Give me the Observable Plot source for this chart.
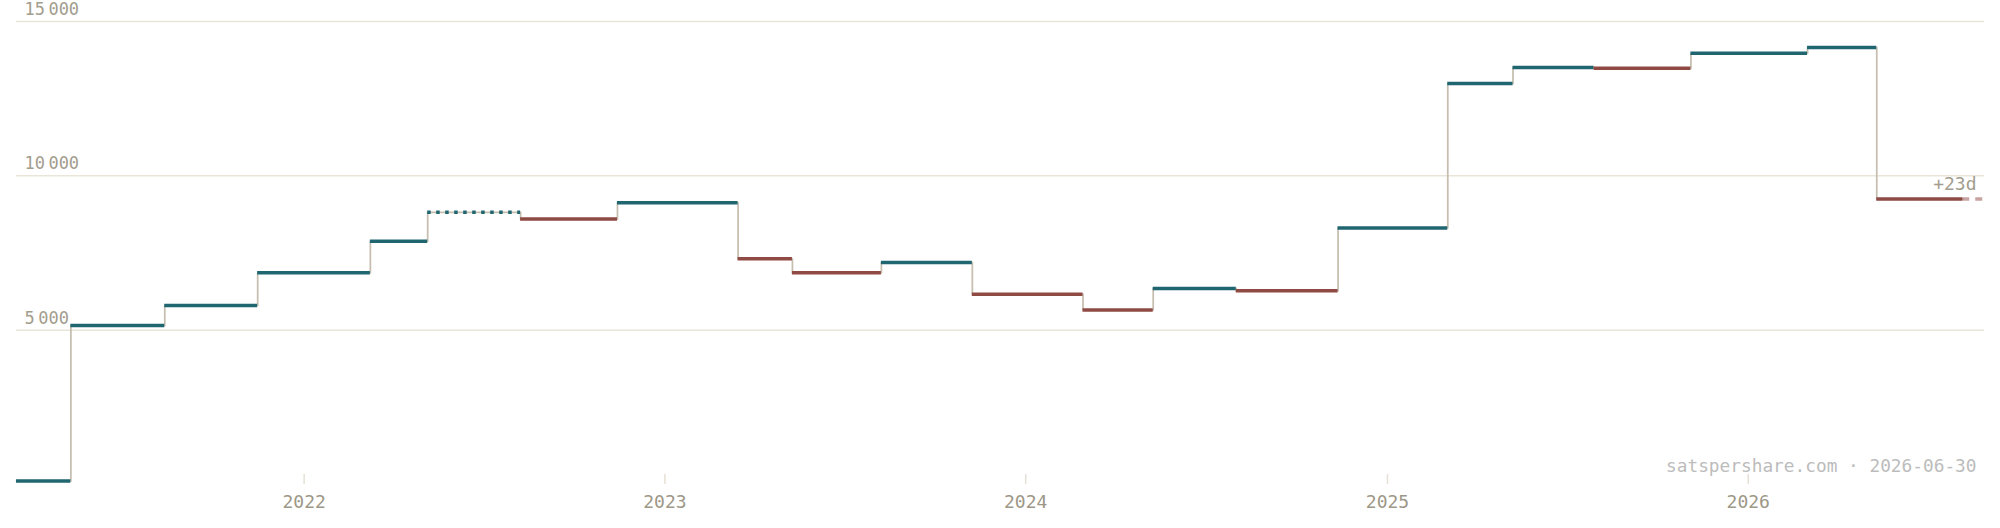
<!DOCTYPE html>
<html>
<head>
<meta charset="utf-8">
<script src="https://cdn.jsdelivr.net/npm/d3@7"></script>
<script src="https://cdn.jsdelivr.net/npm/@observablehq/plot@0.6"></script>
<style>
  html, body { margin: 0; padding: 0; background: #ffffff; }
  #chart svg { display: block; }
</style>
</head>
<body>
<div id="chart"></div>
<script>
// ---- data ----
const periodStarts = [
  "2021-03-16", "2021-05-10", "2021-08-13", "2021-11-15",
  "2022-03-09", "2022-05-06", "2022-08-08", "2022-11-14",
  "2023-03-16", "2023-05-10", "2023-08-08", "2023-11-08",
  "2024-02-28", "2024-05-09", "2024-08-01", "2024-11-12",
  "2025-03-03", "2025-05-08", "2025-07-29", "2025-11-04",
  "2026-03-02", "2026-05-11"
];
const periodEnd = "2026-08-06";
const projectedEnd = "2026-08-28";
const values = [
  110, 5150, 5800, 6860,
  7880, 8820, 8600, 9130,
  7310, 6860, 7190, 6165,
  5650, 6350, 6275, 8310,
  12990, 13510, 13485, 13975,
  14160, 9250
];
const estimated = [
  false, false, false, false,
  false, true, false, false,
  false, false, false, false,
  false, false, false, false,
  false, false, false, false,
  false, false
];
const yTicks = [5000, 10000, 15000];
const xTickDates = ["2022-01-01", "2023-01-01", "2024-01-01", "2025-01-01", "2026-01-01"];
const xTickLabels = ["2022", "2023", "2024", "2025", "2026"];
const footerText = "satspershare.com \u00b7 2026-06-30";
const projectionLabel = "+23d";

// ---- build tables ----
const parse = d3.utcParse("%Y-%m-%d");
const segments = periodStarts.map((s, i) => ({
  x1: parse(s),
  x2: parse(i + 1 < periodStarts.length ? periodStarts[i + 1] : periodEnd),
  y: values[i],
  up: i === 0 ? true : values[i] >= values[i - 1],
  est: estimated[i]
}));
const stepPoints = periodStarts.map((s, i) => ({x: parse(s), y: values[i]}))
  .concat([{x: parse(periodEnd), y: values[values.length - 1]}]);
const projection = [{x1: parse(periodEnd), x2: parse(projectedEnd), y: values[values.length - 1]}];
const xTicks = xTickDates.map((d, i) => ({x: parse(d), label: xTickLabels[i]}));

const TEAL = "#1f6670", RED = "#8f4a43";
const width = 2000, height = 528;
const marginTop = 21, marginBottom = 44, marginLeft = 16, marginRight = 16;
const NNBSP = "\u202F";
const fmt = d => d3.format(",")(d).replace(/,/g, NNBSP);

const chart = Plot.plot({
  width, height, marginTop, marginBottom, marginLeft, marginRight,
  style: {fontFamily: "'DejaVu Sans Mono', 'Liberation Mono', monospace", fontSize: "18px", background: "#ffffff"},
  x: {type: "utc", domain: [parse(periodStarts[0]), parse(projectedEnd)], axis: null},
  y: {domain: [0, 15000], axis: null},
  marks: [
    Plot.ruleY(yTicks, {y: d => d, stroke: "#e9e5d9", strokeWidth: 1.5}),
    Plot.text(yTicks, {y: d => d, text: fmt, frameAnchor: "left", textAnchor: "start", dx: 8, dy: -12, fill: "#a39d8e", fontSize: 17, className: "ylab"}),
    Plot.ruleX(xTicks, {x: "x", insetTop: height - marginTop - marginBottom - 10, stroke: "#e6e1d6", strokeWidth: 1.5}),
    Plot.text(xTicks, {x: "x", text: "label", frameAnchor: "bottom", dy: 23, fill: "#9d9787", fontSize: 18}),
    Plot.line(stepPoints, {x: "x", y: "y", curve: "step-after", stroke: "#c6bfb0", strokeWidth: 1.75}),
    Plot.ruleY(segments.filter(d => !d.est), {x1: "x1", x2: "x2", y: "y", stroke: d => d.up ? TEAL : RED, strokeWidth: 3.5}),
    Plot.ruleY(segments.filter(d => d.est), {x1: "x1", x2: "x2", y: "y", stroke: d => d.up ? TEAL : RED, strokeWidth: 3.5, strokeDasharray: "3.5,5.5"}),
    Plot.ruleY(projection, {x1: "x1", x2: "x2", y: "y", stroke: RED, strokeOpacity: 0.5, strokeWidth: 3.5, strokeDasharray: "7,6"}),
    Plot.text(projection, {x: "x2", y: "y", text: () => projectionLabel, textAnchor: "end", dx: -8, dy: -15, fill: "#a39d8e", fontSize: 18}),
    Plot.text([footerText], {text: d => d, frameAnchor: "bottom-right", textAnchor: "end", dx: -8, dy: -13, fill: "#bcbcbc", fontSize: 17.8})
  ]
});

// render the narrow no-break space of the y labels in a proportional face so it stays narrow
d3.select(chart).selectAll(".ylab text").each(function () {
  const parts = this.textContent.split(NNBSP);
  if (parts.length < 2) return;
  const sel = d3.select(this);
  sel.text(null);
  parts.forEach((p, i) => {
    if (i > 0) sel.append("tspan").attr("font-family", "'DejaVu Sans', sans-serif").text(NNBSP);
    sel.append("tspan").text(p);
  });
});

document.getElementById("chart").appendChild(chart);
</script>
</body>
</html>
